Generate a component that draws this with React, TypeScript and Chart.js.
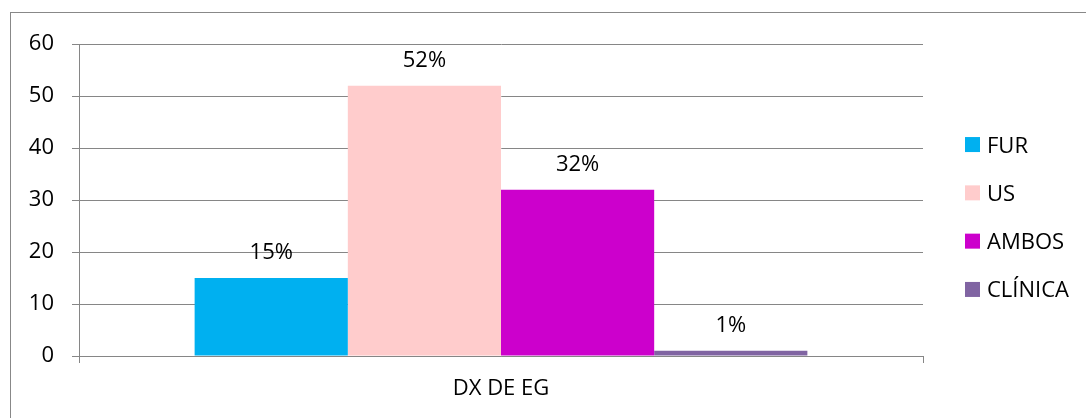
import React, { useEffect, useRef } from 'react';
import { Chart, registerables } from 'chart.js';

Chart.register(...registerables);

const categories = ['DX DE EG'];
const seriesNames = ['FUR', 'US', 'AMBOS', 'CLÍNICA'];
const furValues = [15];
const usValues = [52];
const ambosValues = [32];
const clinicaValues = [1];
const valueLabels = ['15%', '52%', '32%', '1%'];
const yTickValues = [0, 10, 20, 30, 40, 50, 60];
const seriesColors = ['#00B0F0', '#FFCCCC', '#CC00CC', '#8064A2'];

const FONT = '"Open Sans", sans-serif';
const GRID = '#868686';

const valueLabelPlugin = {
  id: 'valueLabels',
  afterDatasetsDraw(chart: any) {
    const ctx = chart.ctx;
    ctx.save();
    ctx.font = `22px ${FONT}`;
    ctx.fillStyle = '#000';
    ctx.textAlign = 'center';
    ctx.textBaseline = 'alphabetic';
    chart.data.datasets.forEach((ds: any, i: number) => {
      const meta = chart.getDatasetMeta(i);
      meta.data.forEach((bar: any) => {
        ctx.fillText(valueLabels[i], bar.x, bar.y - 19);
      });
    });
    ctx.restore();
  },
};

const sideLegendPlugin = {
  id: 'sideLegend',
  afterDraw(chart: any) {
    const ctx = chart.ctx;
    const items = chart.data.datasets;
    const spacing = 48.3;
    const cy = chart.height / 2 + 1.5;
    const x0 = chart.chartArea.right + 42;
    ctx.save();
    ctx.font = `22px ${FONT}`;
    ctx.textBaseline = 'alphabetic';
    ctx.textAlign = 'left';
    items.forEach((ds: any, i: number) => {
      const y = cy + (i - (items.length - 1) / 2) * spacing;
      ctx.fillStyle = ds.backgroundColor;
      ctx.fillRect(x0, y - 7.5, 15, 15);
      ctx.fillStyle = '#000';
      ctx.fillText(ds.label, x0 + 22, y + 8);
    });
    ctx.restore();
  },
};

export default function App() {
  const canvasRef = useRef<HTMLCanvasElement | null>(null);

  useEffect(() => {
    if (!canvasRef.current) return;
    const seriesValues = [furValues, usValues, ambosValues, clinicaValues];
    const chart = new Chart(canvasRef.current, {
      type: 'bar',
      data: {
        labels: categories,
        datasets: seriesNames.map((name, i) => ({
          label: name,
          data: seriesValues[i],
          backgroundColor: seriesColors[i],
          borderWidth: 0,
          categoryPercentage: 0.726,
          barPercentage: 1,
        })),
      },
      options: {
        responsive: false,
        animation: false,
        devicePixelRatio: 1,
        layout: { padding: { top: 29, right: 163, bottom: 0, left: 0 } },
        plugins: {
          legend: { display: false },
          tooltip: { enabled: false },
        },
        scales: {
          x: {
            offset: true,
            grid: {
              offset: true,
              drawOnChartArea: false,
              drawTicks: true,
              tickLength: 7,
              color: GRID,
            },
            border: { color: GRID },
            ticks: { color: '#000', font: { family: FONT, size: 22 }, padding: 13 },
            afterFit(scale: any) {
              scale.height = 62;
            },
          },
          y: {
            min: 0,
            max: 60,
            grid: { color: GRID, tickLength: 7 },
            border: { color: GRID },
            ticks: { color: '#000', font: { family: FONT, size: 22 }, padding: 18 },
            afterBuildTicks(scale: any) {
              scale.ticks = yTickValues.map((v) => ({ value: v }));
            },
            afterFit(scale: any) {
              scale.width = 68;
            },
          },
        },
      } as any,
      plugins: [valueLabelPlugin, sideLegendPlugin],
    });
    return () => chart.destroy();
  }, []);

  return (
    <div
      style={{
        position: 'absolute',
        left: 10,
        top: 12,
        width: 1075,
        height: 405,
        borderTop: '1px solid #888',
        borderLeft: '1px solid #888',
        background: '#fff',
        overflow: 'hidden',
      }}
    >
      <canvas ref={canvasRef} width={1075} height={405} style={{ width: 1075, height: 405, display: 'block' }} />
    </div>
  );
}
